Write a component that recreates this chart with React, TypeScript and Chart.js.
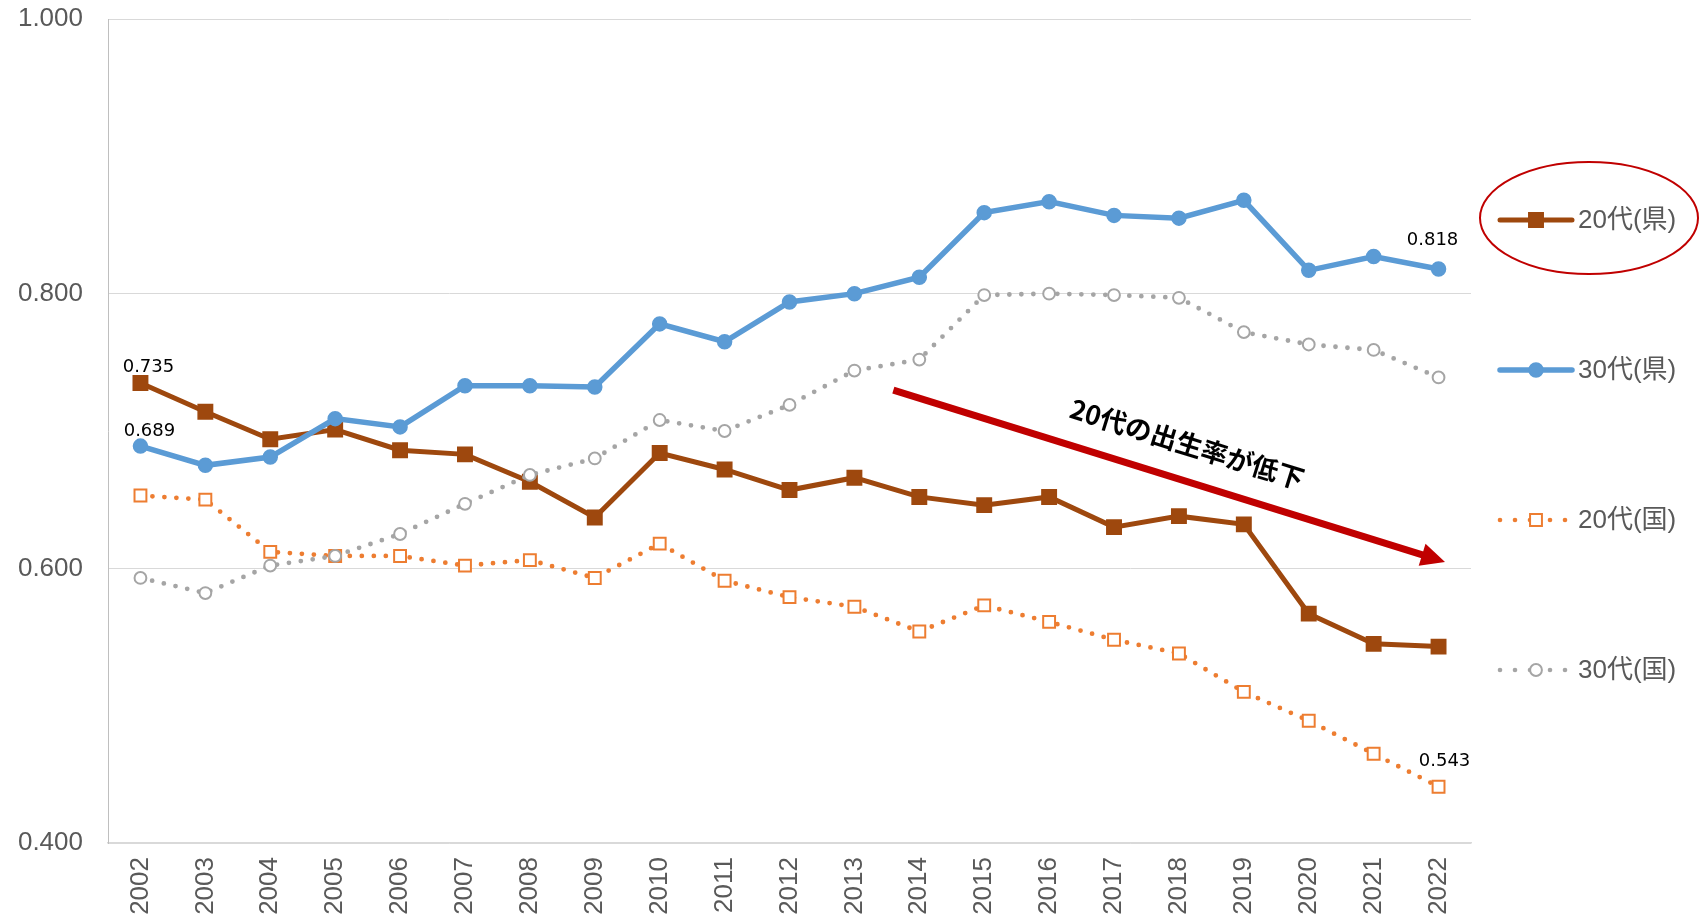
import React, { useEffect, useRef } from 'react';
import { Chart, registerables } from 'chart.js';

Chart.register(...registerables);

// ---------- data ----------
const years = ['2002', '2003', '2004', '2005', '2006', '2007', '2008', '2009', '2010', '2011', '2012', '2013', '2014', '2015', '2016', '2017', '2018', '2019', '2020', '2021', '2022'];
const seriesNames = ['20代(県)', '30代(県)', '20代(国)', '30代(国)'];
const pref20 = [0.735, 0.714, 0.694, 0.701, 0.686, 0.683, 0.663, 0.637, 0.684, 0.672, 0.657, 0.666, 0.652, 0.646, 0.652, 0.630, 0.638, 0.632, 0.567, 0.545, 0.543];
const pref30 = [0.689, 0.675, 0.681, 0.709, 0.703, 0.733, 0.733, 0.732, 0.778, 0.765, 0.794, 0.800, 0.812, 0.859, 0.867, 0.857, 0.855, 0.868, 0.817, 0.827, 0.818];
const nat20 = [0.653, 0.650, 0.612, 0.609, 0.609, 0.602, 0.606, 0.593, 0.618, 0.591, 0.579, 0.572, 0.554, 0.573, 0.561, 0.548, 0.538, 0.510, 0.489, 0.465, 0.441];
const nat30 = [0.593, 0.582, 0.602, 0.609, 0.625, 0.647, 0.668, 0.680, 0.708, 0.700, 0.719, 0.744, 0.752, 0.799, 0.800, 0.799, 0.797, 0.772, 0.763, 0.759, 0.739];
const yMin = 0.4;
const yMax = 1.0;
const yStep = 0.2;
const annotationText = '20代の出生率が低下';
// value labels: which series/year value is printed
const valueLabels = [
  { series: 0, index: 0 },
  { series: 1, index: 0 },
  { series: 1, index: 20 },
  { series: 0, index: 20 },
];
const allSeries = [pref20, pref30, nat20, nat30];

// ---------- styles / positions ----------
const COLORS = ['#9E480E', '#5B9BD5', '#ED7D31', '#A5A5A5'];
const labelPlacement = [
  { anchor: 0, dx: 8, dy: -11 },
  { anchor: 1, dx: 9, dy: -10 },
  { anchor: 1, dx: -6, dy: -24 },
  { anchor: 2, dx: 6, dy: -21 },
];
// arrow in (category index, value) space
const arrowFrom = [11.6, 0.7298];
const arrowTo = [20.1, 0.6047];
const FONT_AX = '26px "Liberation Sans", "Noto Sans CJK JP", sans-serif';

const overlayPlugin = {
  id: 'overlay',
  afterDatasetsDraw(chart: any) {
    const ctx = chart.ctx;
    const xs = chart.scales.x;
    const ys = chart.scales.y;
    const area = chart.chartArea;

    // value labels
    ctx.save();
    ctx.font = '18px "DejaVu Sans", sans-serif';
    ctx.fillStyle = '#000000';
    ctx.textAlign = 'center';
    ctx.textBaseline = 'alphabetic';
    valueLabels.forEach((l, i) => {
      const p = labelPlacement[i];
      const pt = chart.getDatasetMeta(p.anchor).data[l.index];
      ctx.fillText(allSeries[l.series][l.index].toFixed(3), pt.x + p.dx, pt.y + p.dy);
    });
    ctx.restore();

    // arrow
    const x0 = xs.getPixelForValue(arrowFrom[0]);
    const y0 = ys.getPixelForValue(arrowFrom[1]);
    const x1 = xs.getPixelForValue(arrowTo[0]);
    const y1 = ys.getPixelForValue(arrowTo[1]);
    const len = Math.hypot(x1 - x0, y1 - y0);
    const ux = (x1 - x0) / len;
    const uy = (y1 - y0) / len;
    const nx = -uy;
    const ny = ux;
    const headLen = 24;
    const headHalf = 11.5;
    const bx = x1 - ux * headLen;
    const by = y1 - uy * headLen;
    ctx.save();
    ctx.strokeStyle = '#C00000';
    ctx.fillStyle = '#C00000';
    ctx.lineWidth = 7;
    ctx.lineCap = 'butt';
    ctx.beginPath();
    ctx.moveTo(x0, y0);
    ctx.lineTo(bx + ux * 2, by + uy * 2);
    ctx.stroke();
    ctx.beginPath();
    ctx.moveTo(x1, y1);
    ctx.lineTo(bx + nx * headHalf, by + ny * headHalf);
    ctx.lineTo(bx - nx * headHalf, by - ny * headHalf);
    ctx.closePath();
    ctx.fill();

    // annotation text
    const t = 0.513;
    const ang = Math.atan2(y1 - y0, x1 - x0);
    const cx = x0 + (x1 - x0) * t - nx * 36;
    const cy = y0 + (y1 - y0) * t - ny * 36;
    ctx.translate(cx, cy);
    ctx.rotate(ang);
    ctx.font = 'bold 26.5px "Noto Sans CJK JP", sans-serif';
    ctx.fillStyle = '#000000';
    ctx.textAlign = 'center';
    ctx.textBaseline = 'middle';
    ctx.fillText(annotationText, 0, 0);
    ctx.restore();

    // legend
    const lx0 = area.right + 29;
    const lx1 = area.right + 101;
    const lmx = (lx0 + lx1) / 2;
    const ltx = area.right + 107;
    const ly0 = area.top + 201;
    const lstep = 150;
    chart.data.datasets.forEach((ds: any, i: number) => {
      const yy = ly0 + i * lstep;
      ctx.save();
      ctx.strokeStyle = ds.borderColor;
      ctx.fillStyle = ds.borderColor;
      if (ds.borderDash && ds.borderDash.length) {
        const dots = [lx0, lx0 + 15, lx0 + 30, lx1 - 7, lx1 - 22];
        dots.forEach((dx) => {
          ctx.beginPath();
          ctx.arc(dx, yy, 2.3, 0, Math.PI * 2);
          ctx.fill();
        });
      } else {
        ctx.lineWidth = ds.borderWidth;
        ctx.lineCap = 'round';
        ctx.beginPath();
        ctx.moveTo(lx0, yy);
        ctx.lineTo(lx1, yy);
        ctx.stroke();
      }
      ctx.fillStyle = ds.pointBackgroundColor;
      ctx.strokeStyle = ds.pointBorderColor;
      ctx.lineWidth = ds.pointBorderWidth;
      ctx.beginPath();
      if (ds.pointStyle === 'rect') {
        const s = ds.pointRadius * Math.SQRT1_2;
        ctx.rect(lmx - s, yy - s, 2 * s, 2 * s);
      } else {
        ctx.arc(lmx, yy, ds.pointRadius, 0, Math.PI * 2);
      }
      ctx.fill();
      ctx.stroke();
      ctx.font = FONT_AX;
      ctx.fillStyle = '#595959';
      ctx.textAlign = 'left';
      ctx.textBaseline = 'middle';
      ctx.fillText(ds.label, ltx, yy + 1);
      ctx.restore();
    });

    // red ellipse around first legend entry
    ctx.save();
    ctx.strokeStyle = '#C00000';
    ctx.lineWidth = 2;
    ctx.beginPath();
    ctx.ellipse(area.right + 118, ly0 - 2, 109, 56, 0, 0, Math.PI * 2);
    ctx.stroke();
    ctx.restore();
  },
};

export default function App() {
  const ref = useRef<HTMLCanvasElement>(null);
  useEffect(() => {
    document.body.style.margin = '0';
    const canvas = ref.current;
    if (!canvas) return;
    const solid = (i: number, style: string, r: number, w: number) => ({
      label: seriesNames[i],
      data: allSeries[i],
      borderColor: COLORS[i],
      backgroundColor: COLORS[i],
      borderWidth: w,
      pointStyle: style,
      pointRadius: r,
      pointHoverRadius: r,
      pointBackgroundColor: COLORS[i],
      pointBorderColor: COLORS[i],
      pointBorderWidth: 1.5,
      tension: 0,
      order: 4 - i,
    });
    const dotted = (i: number, style: string, r: number) => ({
      label: seriesNames[i],
      data: allSeries[i],
      borderColor: COLORS[i],
      backgroundColor: '#FFFFFF',
      borderWidth: 4.8,
      borderDash: [0, 12],
      borderCapStyle: 'round',
      pointStyle: style,
      pointRadius: r,
      pointHoverRadius: r,
      pointBackgroundColor: '#FFFFFF',
      pointBorderColor: COLORS[i],
      pointBorderWidth: 2,
      tension: 0,
      order: 4 - i,
    });
    const chart = new Chart(canvas, {
      type: 'line',
      data: {
        labels: years,
        datasets: [
          solid(0, 'rect', 10.2, 5),
          solid(1, 'circle', 7, 5.5),
          dotted(2, 'rect', 8.4),
          dotted(3, 'circle', 5.9),
        ] as any,
      },
      options: {
        responsive: false,
        animation: false,
        devicePixelRatio: 1,
        layout: { autoPadding: false, padding: { top: 19, right: 230, bottom: 0, left: 0 } },
        plugins: {
          legend: { display: false },
          tooltip: { enabled: false },
        },
        scales: {
          x: {
            offset: true,
            grid: { display: false, drawTicks: false },
            border: { display: true, color: '#D9D9D9', width: 1.5 },
            ticks: {
              autoSkip: false,
              minRotation: 90,
              maxRotation: 90,
              padding: 14,
              color: '#595959',
              font: { family: '"Liberation Sans", sans-serif', size: 26 },
            },
            afterFit: (s: any) => {
              s.height = 80;
              s.paddingLeft = 0;
              s.paddingRight = 0;
              s.paddingTop = 0;
              s.paddingBottom = 0;
            },
          },
          y: {
            min: yMin,
            max: yMax,
            grid: { color: '#D9D9D9', lineWidth: 1, drawTicks: false },
            border: { display: true, color: '#BFBFBF', width: 1 },
            ticks: {
              stepSize: yStep,
              padding: 25,
              color: '#595959',
              font: { family: '"Liberation Sans", sans-serif', size: 26 },
              callback: (v: any) => Number(v).toFixed(3),
            },
            afterFit: (s: any) => {
              s.width = 108;
              s.paddingTop = 0;
              s.paddingBottom = 0;
              s.paddingLeft = 0;
              s.paddingRight = 0;
            },
          },
        },
      } as any,
      plugins: [overlayPlugin],
    });
    return () => chart.destroy();
  }, []);
  return (
    <div style={{ position: 'fixed', left: 0, top: 0, width: 1701, height: 923, background: '#FFFFFF' }}>
      <canvas ref={ref} width={1701} height={923} style={{ display: 'block', width: 1701, height: 923 }} />
    </div>
  );
}
